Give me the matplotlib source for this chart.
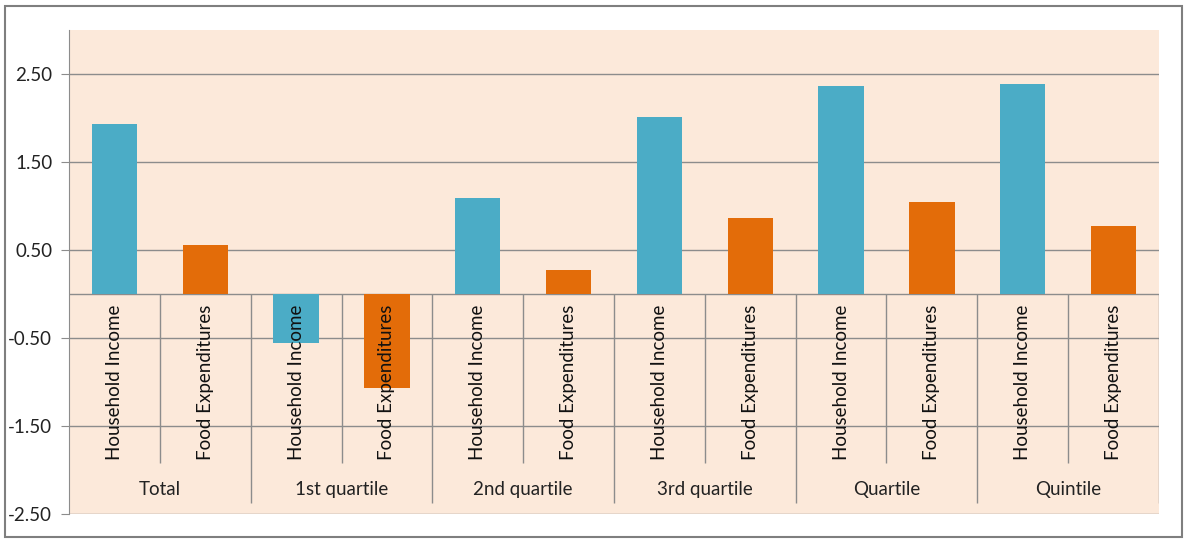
import numpy as np
import matplotlib.pyplot as plt
from matplotlib.patches import Rectangle

groups = ['Total', '1st quartile', '2nd quartile', '3rd quartile', 'Quartile', 'Quintile']
series = ['Household Income', 'Food Expenditures']
income = [1.93, -0.56, 1.09, 2.01, 2.36, 2.39]
food = [0.56, -1.07, 0.27, 0.86, 1.05, 0.77]
yticks = [-2.5, -1.5, -0.5, 0.5, 1.5, 2.5]

blue = '#4BACC6'
orange = '#E36C09'
peach = '#FCE9DA'
grey = '#8C8C8C'

plt.rcParams['font.family'] = ['Lato', 'DejaVu Sans']

fig = plt.figure(figsize=(12.02, 5.4), dpi=100)
fig.patches.append(Rectangle((5/1202, 3/540), 1177/1202, 531/540, transform=fig.transFigure,
                             fill=False, edgecolor='#7F7F7F', linewidth=1.5))

ax = fig.add_axes([69/1202, 26/540, 1090/1202, 484/540])
ax.set_facecolor(peach)

n = len(groups)
vals = []
for a, b in zip(income, food):
    vals += [a, b]
x = np.arange(2 * n)
colors = [blue, orange] * n
ax.bar(x, vals, width=0.5, color=colors, zorder=3)

ax.set_xlim(-0.5, 2 * n - 0.5)
ax.set_ylim(-2.5, 3.0)
ax.set_yticks(yticks)
ax.set_yticklabels(['%.2f' % t for t in yticks], fontsize=13.5, color='#222222')
ax.grid(axis='y', color=grey, linewidth=1, zorder=1)
ax.axhline(0, color=grey, linewidth=1, zorder=2)
ax.tick_params(axis='y', length=6, color=grey, pad=6)
ax.set_xticks([])
for s in ['top', 'right', 'bottom']:
    ax.spines[s].set_visible(False)
ax.spines['left'].set_color(grey)

# category label table below the zero line
inner_bottom = -1.92
group_bottom = -2.37
ax.vlines(x[::2] + 0.5, inner_bottom, 0, color=grey, linewidth=1, zorder=2)
ax.vlines(x[1::2] + 0.5, group_bottom, 0, color=grey, linewidth=1, zorder=2)

for i in x:
    ax.text(i, -0.12, series[i % 2], rotation=90, ha='center', va='top',
            fontsize=13.5, color='#111111', zorder=4)
for g in range(n):
    ax.text(2 * g + 0.5, -2.22, groups[g], ha='center', va='center',
            fontsize=13.5, color='#222222', zorder=4)

fig.savefig('out.png', dpi=100)
